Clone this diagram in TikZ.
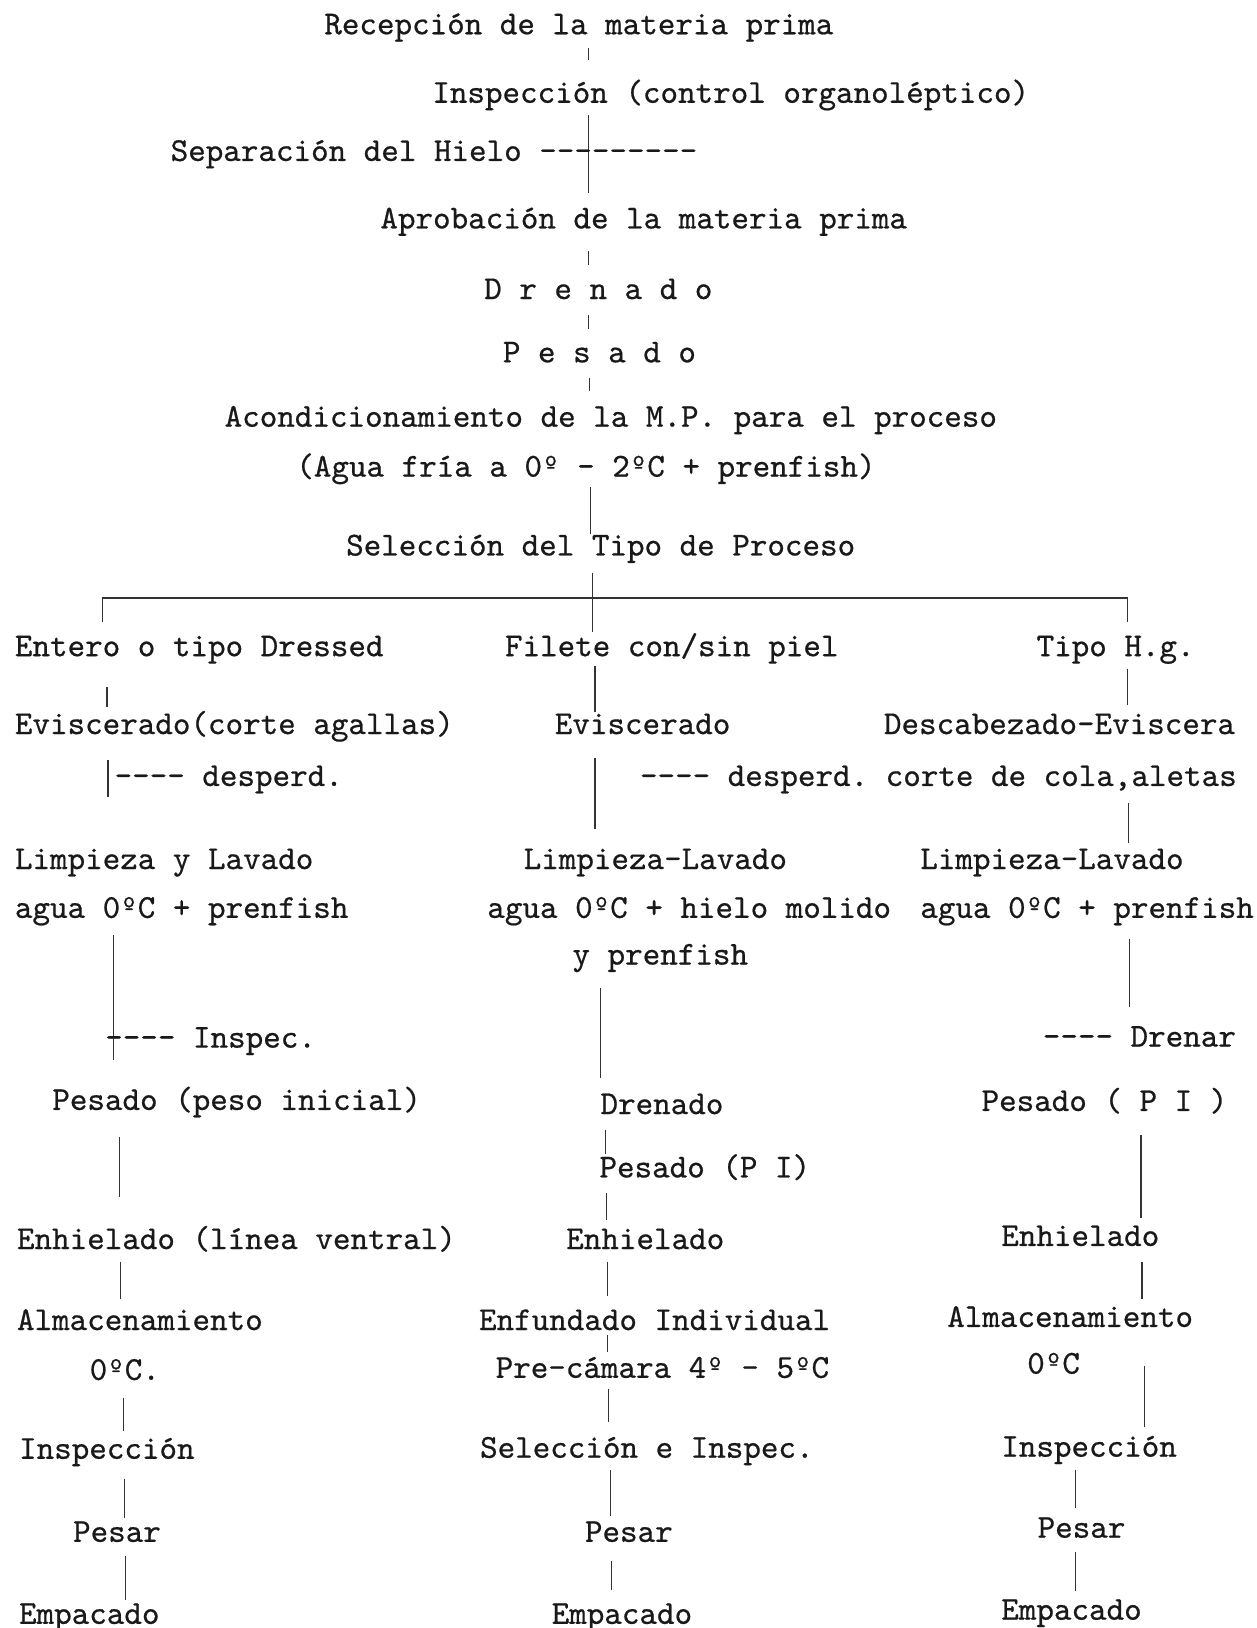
\documentclass[tikz,border=0pt]{standalone}
\usepackage{fontspec}
\newfontfamily\twfont{lmmono10-regular.otf}[FakeBold=0.6]
\newcommand\hy{\mbox{-}}
\tikzset{
  tw/.style={anchor=west, inner sep=0pt, text height=10pt, text depth=3pt,
    text=black!90, font=\twfont\fontsize{16.1pt}{18pt}\selectfont\frenchspacing},
  conn/.style={draw=black!80, line width=0.6pt}
}
\newcommand\vl[4]{\coordinate (#1a) at (#2,#3); \coordinate (#1b) at (#2,#4); \draw[conn] (#1a) -- (#1b);}
\begin{document}
\begin{tikzpicture}[x=0.5pt,y=-0.5pt]
\useasboundingbox (0,0) rectangle (1210,1568);
% ---------- top trunk ----------
\node[tw] (rec) at (312,26) {Recepción de la materia prima};
\vl{l1}{567}{46}{58}
\node[tw] (insp) at (416,92) {Inspección (control organoléptico)};
\vl{l2}{567}{111}{186}
\node[tw] (sep) at (164,148) {Separación del Hielo \hy\hy\hy\hy\hy\hy\hy\hy\hy};
\node[tw] (apro) at (366,213) {Aprobación de la materia prima};
\vl{l3}{567}{242}{255}
\node[tw] (dren) at (466,281) {D r e n a d o};
\vl{l4}{567}{303}{317}
\node[tw] (pes) at (484,342) {P e s a d o};
\vl{l5}{568}{364}{377}
\node[tw] (acon) at (216,404) {Acondicionamiento de la M.P. para el proceso};
\node[tw] (agua) at (285,452) {(Agua fría a 0º - 2ºC + prenfish)};
\vl{l6}{569}{469}{514}
\node[tw] (sel) at (333,528) {Selección del Tipo de Proceso};
\vl{l7}{571}{552}{609}
\coordinate (barL) at (99,576); \coordinate (barR) at (1086,576);
\coordinate (barLd) at (99,599); \coordinate (barRd) at (1086,599);
\draw[conn] (barLd) -- (barL) -- (barR) -- (barRd);
% ---------- branch heads ----------
\node[tw] (ent) at (14,625) {Entero o tipo Dressed};
\node[tw] (fil) at (486,625) {Filete con/sin piel};
\node[tw] (tipo) at (998,625) {Tipo H.g.};
\vl{a1}{103}{662}{681}
\vl{b1}{573}{641}{686}
\vl{c1}{1086}{644}{679}
\node[tw] (evl) at (14,700) {Eviscerado(corte agallas)};
\node[tw] (evm) at (534,700) {Eviscerado};
\node[tw] (desc) at (851,700) {Descabezado-Eviscera};
\vl{a2}{104}{732}{768}
\node[tw] (dpl) at (110,750) {\hy\hy\hy\hy{} desperd.};
\vl{b2}{573}{730}{798}
\node[tw] (dpr) at (616,750) {\hy\hy\hy\hy{} desperd. corte de cola,aletas};
\vl{c2}{1087}{773}{812}
\node[tw] (liml) at (14,830) {Limpieza y Lavado};
\node[tw] (limm) at (504,830) {Limpieza-Lavado};
\node[tw] (limr) at (886,830) {Limpieza-Lavado};
\node[tw] (agl) at (14,877) {agua 0ºC + prenfish};
\node[tw] (agm) at (469,877) {agua 0ºC + hielo molido};
\node[tw] (agr) at (886,877) {agua 0ºC + prenfish};
\node[tw] (ypr) at (551,922) {y prenfish};
% ---------- left branch ----------
\vl{a3}{109}{901}{1021}
\node[tw] (insl) at (101,1002) {\hy\hy\hy\hy{} Inspec.};
\node[tw] (pesl) at (50,1062) {Pesado (peso inicial)};
\vl{a4}{115}{1095}{1153}
\node[tw] (enhl) at (16,1196) {Enhielado (línea ventral)};
\vl{a5}{116}{1215}{1251}
\node[tw] (alml) at (16,1274) {Almacenamiento};
\node[tw] (tl) at (86,1322) {0ºC.};
\vl{a6}{119}{1346}{1378}
\node[tw] (inl) at (18,1398) {Inspección};
\vl{a7}{120}{1424}{1462}
\node[tw] (psl) at (70,1478) {Pesar};
\vl{a8}{121}{1499}{1541}
\node[tw] (eml) at (18,1557) {Empacado};
% ---------- middle branch ----------
\vl{b3}{578}{952}{1038}
\node[tw] (drm) at (578,1066) {Drenado};
\vl{b4}{583}{1088}{1111}
\node[tw] (pim) at (577,1127) {Pesado (P I)};
\vl{b5}{584}{1149}{1175}
\node[tw] (enm) at (545,1196) {Enhielado};
\vl{b6}{585}{1215}{1248}
\node[tw] (efm) at (461,1274) {Enfundado Individual};
\vl{b7}{585}{1286}{1302}
\node[tw] (prm) at (477,1320) {Pre-cámara 4º - 5ºC};
\vl{b8}{586}{1338}{1370}
\node[tw] (sim) at (462,1397) {Selección e Inspec.};
\vl{b9}{588}{1416}{1460}
\node[tw] (psm) at (563,1478) {Pesar};
\vl{b10}{589}{1503}{1531}
\node[tw] (emm) at (531,1557) {Empacado};
% ---------- right branch ----------
\vl{c3}{1088}{904}{970}
\node[tw] (drr) at (1004,1001) {\hy\hy\hy\hy{} Drenar};
\node[tw] (pir) at (945,1063) {Pesado ( P I )};
\vl{c4}{1099}{1093}{1173}
\node[tw] (enr) at (964,1193) {Enhielado};
\vl{c5}{1100}{1215}{1251}
\node[tw] (almr) at (912,1271) {Almacenamiento};
\node[tw] (tr) at (989,1316) {0ºC};
\vl{c6}{1102}{1316}{1374}
\node[tw] (inr) at (964,1396) {Inspección};
\vl{c7}{1036}{1416}{1452}
\node[tw] (psr) at (999,1474) {Pesar};
\vl{c8}{1036}{1495}{1532}
\node[tw] (emr) at (964,1553) {Empacado};
\end{tikzpicture}
\end{document}
